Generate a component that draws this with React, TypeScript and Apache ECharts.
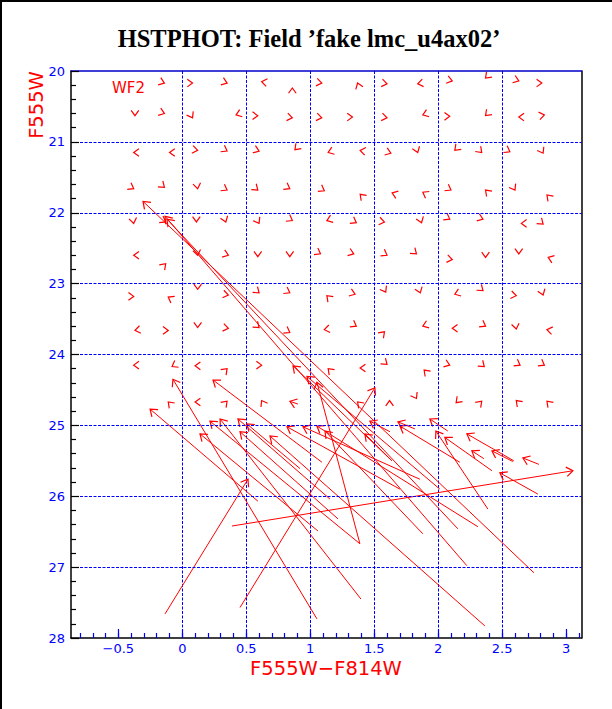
import React, { useEffect, useRef } from "react";
import * as echarts from "echarts";

// ---------- axis ticks ----------
const xMajorTicks = [-0.5, 0, 0.5, 1, 1.5, 2, 2.5, 3];
const xMinorTicks = [
  -0.8, -0.7, -0.6, -0.5, -0.4, -0.3, -0.2, -0.1, 0, 0.1, 0.2, 0.3, 0.4, 0.5, 0.6, 0.7, 0.8, 0.9,
  1, 1.1, 1.2, 1.3, 1.4, 1.5, 1.6, 1.7, 1.8, 1.9, 2, 2.1, 2.2, 2.3, 2.4, 2.5, 2.6, 2.7, 2.8, 2.9,
  3, 3.1,
];
const xRange = [-0.87, 3.12];
const yRange = [20, 28];

// ---------- small vectors (tip position + direction, degrees, 0 = right, 90 = up) ----------
const smallX = [
  -0.14, 0.08, 0.35, 0.62, 0.86, 1.09, 1.37, 1.6, 1.84, 2.11, 2.37, 2.63, 2.81,
  -0.37, -0.14, 0.08, 0.42, 0.59, 0.86, 1.09, 1.33, 1.6, 1.88, 2.09, 2.37, 2.63, 2.83,
  -0.38, -0.1, 0.12, 0.35, 0.6, 0.88, 1.14, 1.39, 1.63, 1.84, 2.13, 2.34, 2.56, 2.82,
  -0.38, -0.14, 0.12, 0.35, 0.59, 0.84, 1.11, 1.39, 1.64, 1.88, 2.1, 2.37, 2.6, 2.85,
  -0.38, -0.13, 0.11, 0.34, 0.6, 0.86, 1.13, 1.36, 1.58, 1.87, 2.09, 2.35, 2.65, 2.82,
  -0.38, -0.13, 0.12, 0.36, 0.59, 0.84, 1.08, 1.34, 1.6, 1.83, 2.11, 2.37, 2.63, 2.86,
  -0.38, -0.11, 0.12, 0.36, 0.6, 0.84, 1.13, 1.35, 1.59, 1.86, 2.13, 2.35, 2.61, 2.82,
  -0.37, -0.11, 0.12, 0.36, 0.6, 0.84, 1.11, 1.36, 1.58, 1.88, 2.11, 2.37, 2.61, 2.85,
  -0.38, -0.08, 0.1, 0.35, 0.62, 1.14, 1.39, 1.6, 1.89, 2.09, 2.36, 2.64, 2.83,
  -0.11, 0.1, 0.35, 0.62, 1.37, 1.62, 1.83, 2.14, 2.34, 2.61, 2.85,
];
const smallY = [
  20.17, 20.17, 20.17, 20.15, 20.24, 20.17, 20.17, 20.18, 20.18, 20.14, 20.1, 20.14, 20.17,
  20.63, 20.6, 20.66, 20.62, 20.63, 20.66, 20.66, 20.65, 20.66, 20.62, 20.64, 20.63, 20.65, 20.62,
  21.15, 21.15, 21.12, 21.13, 21.13, 21.11, 21.15, 21.12, 21.16, 21.15, 21.12, 21.15, 21.14, 21.16,
  21.66, 21.64, 21.66, 21.68, 21.68, 21.66, 21.69, 21.74, 21.72, 21.71, 21.68, 21.68, 21.68, 21.75,
  22.15, 22.13, 22.13, 22.13, 22.15, 22.11, 22.11, 22.14, 22.13, 22.14, 22.09, 22.09, 22.15, 22.16,
  22.6, 22.72, 22.6, 22.6, 22.62, 22.62, 22.58, 22.58, 22.6, 22.58, 22.66, 22.63, 22.58, 22.63,
  23.18, 23.19, 23.08, 23.16, 23.13, 23.13, 23.17, 23.15, 23.12, 23.13, 23.15, 23.1, 23.17, 23.16,
  23.66, 23.66, 23.62, 23.63, 23.62, 23.69, 23.65, 23.6, 23.68, 23.6, 23.63, 23.6, 23.64, 23.65,
  24.15, 24.17, 24.16, 24.2, 24.15, 24.2, 24.19, 24.14, 24.22, 24.15, 24.17, 24.15, 24.15,
  24.67, 24.67, 24.66, 24.65, 24.67, 24.65, 24.62, 24.68, 24.66, 24.65, 24.66,
];
const smallDir = [
  -20, 0, -20, 170, 90, -10, 110, -10, 190, -15, 225, -20, 0,
  270, -20, -60, 200, 0, -10, -10, 0, -10, 200, 0, 225, 180, 10,
  180, 180, -10, -30, -20, 225, 200, 170, -20, -70, 225, -45, -30, -60,
  -30, -40, -80, -30, -40, -30, -30, 135, 160, 150, -30, 135, -60, 135,
  280, -30, 270, -70, -60, -30, 200, -30, -10, -70, -30, -20, 180, -40,
  180, 45, 280, -20, 270, 270, -30, -20, -30, -40, -10, 270, 270, 160,
  0, 150, 270, -10, -40, -30, 135, -20, -60, -70, 200, -40, -10, -70,
  190, 0, 270, -10, -40, -30, 190, -30, 45, 200, 180, -30, 280, 170,
  180, 210, 180, 45, 0, 135, 180, -40, 135, -20, -40, -30, -30,
  135, 180, 45, 120, 135, 90, -60, 225, 45, 135, 135,
];

// ---------- long vectors: tail (x0, y0) -> head (x1, y1) ----------
const longX0 = [
  2.748, 2.224, 2.154, 1.638, 2.013, 1.388, 0.591, 1.052, -0.135, 1.06, 1.091, 1.388, 1.396,
  1.154, 0.92, 1.217, 2.365, 1.701, 1.857, 2.31, 1.88, 0.904,
  2.779, 2.787, 2.583, 2.357, 2.591, 2.42, 2.075, 2.388, 1.818, 2.169, 1.623, 1.638, 0.451, 0.388,
];
const longY0 = [
  27.08, 26.98, 26.46, 25.5, 25.9, 26.67, 26.07, 27.73, 27.66, 26.49, 25.52, 26.67, 27.45,
  26.04, 25.61, 26.32, 27.83, 25.9, 25.76, 26.43, 26.53, 24.7,
  25.97, 25.55, 25.51, 25.47, 25.5, 25.64, 25.08, 26.18, 25.05, 25.52, 25.09, 25.5, 27.57, 26.42,
];
const longX1 = [
  -0.307, -0.135, -0.12, 0.865, 0.974, 1.052, -0.252, -0.073, 0.513, 0.138, 0.24, 0.216, 0.295,
  0.435, 0.505, 0.451, 0.685, 0.818, 0.943, 1.052, 1.115, 0.841,
  2.482, 2.662, 2.42, 2.263, 2.224, 2.052, 1.935, 1.982, 1.685, 1.701, 1.466, 1.427, 1.505, 3.053,
];
const longY1 = [
  21.84, 22.05, 22.09, 24.16, 24.31, 24.39, 24.77, 24.35, 25.76, 25.12, 24.36, 24.94, 24.91,
  24.91, 24.98, 25.09, 25.15, 25.02, 25.02, 25.01, 25.08, 24.66,
  25.67, 25.46, 25.36, 25.36, 25.12, 25.17, 24.91, 25.08, 24.95, 25.01, 24.94, 25.12, 24.47, 25.64,
];

const RED = "#ff0000";
const BLUE = "#0000ff";
const SANS = "DejaVu Sans";

function fmt(v: number): string {
  const s = String(Math.round(v * 10) / 10);
  return s.startsWith("-") ? "\u2212" + s.slice(1) : s;
}

function head(tip: number[], ang: number, L: number) {
  const a = (36 * Math.PI) / 180;
  return [
    [tip[0] - L * Math.cos(ang - a), tip[1] - L * Math.sin(ang - a)],
    [tip[0], tip[1]],
    [tip[0] - L * Math.cos(ang + a), tip[1] - L * Math.sin(ang + a)],
  ];
}

export default function App() {
  const ref = useRef<HTMLDivElement>(null);

  useEffect(() => {
    if (!ref.current) return;
    const chart = echarts.init(ref.current, undefined, { renderer: "svg" });

    const smallData = smallX.map((x, i) => [x, smallY[i], smallDir[i]]);
    const longData = longX0.map((x, i) => [x, longY0[i], longX1[i], longY1[i]]);

    const baseX = {
      type: "value",
      min: xRange[0],
      max: xRange[1],
      gridIndex: 0,
    };
    const gridLine = { color: BLUE, type: [3, 1.5], width: 1 };

    chart.setOption({
      animation: false,
      backgroundColor: "#ffffff",
      grid: { left: 71, top: 71, width: 510.5, height: 567, containLabel: false },
      xAxis: [
        {
          ...baseX,
          position: "bottom",
          axisLine: { show: true, onZero: false, lineStyle: { color: "#000", width: 1.5 } },
          axisTick: {
            show: true,
            inside: true,
            length: 5,
            customValues: xMinorTicks,
            lineStyle: { color: BLUE, width: 1.2 },
          },
          axisLabel: { show: false },
          splitLine: { show: false },
          z: 5,
        },
        {
          ...baseX,
          position: "bottom",
          axisLine: { show: false, onZero: false },
          axisTick: {
            show: true,
            inside: true,
            length: 9,
            customValues: xMajorTicks,
            lineStyle: { color: BLUE, width: 1.2 },
          },
          axisLabel: {
            show: true,
            customValues: xMajorTicks,
            formatter: (v: number) => fmt(v),
            color: BLUE,
            fontFamily: SANS,
            fontSize: 13,
            margin: 4,
          },
          splitLine: { show: true, showMinLine: false, showMaxLine: false, lineStyle: gridLine },
        },
        {
          ...baseX,
          position: "top",
          axisLine: { show: true, onZero: false, lineStyle: { color: "#0000cc", width: 1.5 } },
          axisTick: { show: false },
          axisLabel: { show: false },
          splitLine: { show: false },
          z: 5,
        },
      ],
      yAxis: [
        {
          type: "value",
          min: yRange[0],
          max: yRange[1],
          interval: 1,
          inverse: true,
          position: "left",
          axisLine: { show: true, onZero: false, lineStyle: { color: "#000", width: 1.5 } },
          axisTick: { show: true, inside: true, length: 8, lineStyle: { color: "#000", width: 1.2 } },
          minorTick: { show: true, splitNumber: 5, length: 5, lineStyle: { color: "#000", width: 1.2 } },
          axisLabel: {
            color: BLUE,
            fontFamily: SANS,
            fontSize: 13,
            margin: 6,
            formatter: (v: number) => fmt(v),
          },
          splitLine: { show: true, showMinLine: false, showMaxLine: false, lineStyle: gridLine },
          z: 5,
        },
        {
          type: "value",
          min: yRange[0],
          max: yRange[1],
          inverse: true,
          position: "right",
          axisLine: { show: true, onZero: false, lineStyle: { color: "#000", width: 1.5 } },
          axisTick: { show: false },
          axisLabel: { show: false },
          splitLine: { show: false },
          z: 5,
        },
      ],
      graphic: [
        {
          type: "text",
          x: 309,
          y: 38,
          style: {
            text: "HSTPHOT: Field \u2019fake lmc_u4ax02\u2019",
            font: "bold 24.5px 'Liberation Serif'",
            fill: "#000",
            textAlign: "center",
            textVerticalAlign: "middle",
          },
        },
        {
          type: "text",
          x: 36,
          y: 105,
          rotation: Math.PI / 2,
          style: {
            text: "F555W",
            font: "19.5px 'DejaVu Sans'",
            fill: RED,
            textAlign: "center",
            textVerticalAlign: "middle",
          },
        },
        {
          type: "text",
          x: 326,
          y: 668,
          style: {
            text: "F555W\u2212F814W",
            font: "19.5px 'DejaVu Sans'",
            fill: RED,
            textAlign: "center",
            textVerticalAlign: "middle",
          },
        },
        {
          type: "text",
          x: 112,
          y: 88,
          style: {
            text: "WF2",
            font: "15px 'DejaVu Sans'",
            fill: RED,
            textAlign: "left",
            textVerticalAlign: "middle",
          },
          z: 10,
        },
        { type: "line", shape: { x1: 0, y1: 1, x2: 612, y2: 1 }, style: { stroke: "#000", lineWidth: 2 } },
        { type: "line", shape: { x1: 1, y1: 0, x2: 1, y2: 709 }, style: { stroke: "#000", lineWidth: 2 } },
      ],
      series: [
        {
          type: "custom",
          name: "small",
          xAxisIndex: 0,
          yAxisIndex: 0,
          data: smallData,
          clip: false,
          renderItem: (params: any, api: any) => {
            const p = api.coord([api.value(0), api.value(1)]);
            const ang = (-api.value(2) * Math.PI) / 180;
            return {
              type: "polyline",
              shape: { points: head(p, ang, 6.5) },
              style: { stroke: RED, fill: "none", lineWidth: 1.2 },
            };
          },
        },
        {
          type: "custom",
          name: "long",
          xAxisIndex: 0,
          yAxisIndex: 0,
          data: longData,
          clip: false,
          renderItem: (params: any, api: any) => {
            const p0 = api.coord([api.value(0), api.value(1)]);
            const p1 = api.coord([api.value(2), api.value(3)]);
            const ang = Math.atan2(p1[1] - p0[1], p1[0] - p0[0]);
            return {
              type: "group",
              children: [
                {
                  type: "line",
                  shape: { x1: p0[0], y1: p0[1], x2: p1[0], y2: p1[1] },
                  style: { stroke: RED, lineWidth: 1 },
                },
                {
                  type: "polyline",
                  shape: { points: head(p1, ang, 8) },
                  style: { stroke: RED, fill: "none", lineWidth: 1.2 },
                },
              ],
            };
          },
        },
      ],
    });

    return () => chart.dispose();
  }, []);

  return (
    <div
      ref={ref}
      style={{ position: "fixed", left: 0, top: 0, width: 612, height: 709, background: "#fff" }}
    />
  );
}
